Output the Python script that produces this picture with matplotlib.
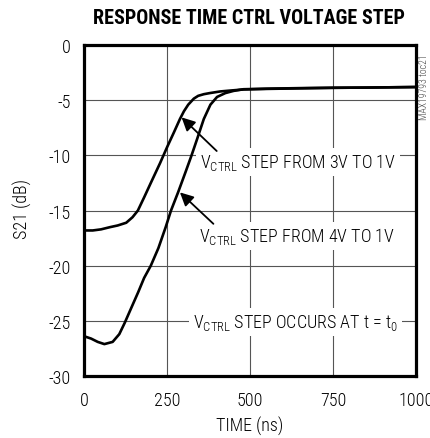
import matplotlib
matplotlib.use("Agg")
import matplotlib.pyplot as plt

FONT = ["Roboto Condensed", "Archivo Narrow", "Liberation Sans", "DejaVu Sans"]
plt.rcParams["font.family"] = FONT
plt.rcParams["font.weight"] = "light"
plt.rcParams["mathtext.fontset"] = "custom"
plt.rcParams["mathtext.rm"] = FONT[0] + ":light"
plt.rcParams["mathtext.it"] = FONT[0] + ":light"

# curve: VCTRL step 3V -> 1V
t_3v = [0, 25, 50, 77, 100, 126, 145, 161, 180, 200, 228, 250, 270, 288, 300,
        313, 330, 343, 360, 378, 410, 440, 480, 550, 650, 750, 850, 1000]
s21_3v = [-16.8, -16.8, -16.7, -16.5, -16.35, -16.1, -15.6, -15.0, -13.8, -12.5,
          -10.7, -9.2, -7.9, -6.7, -6.0, -5.4, -4.85, -4.6, -4.45, -4.35, -4.2,
          -4.12, -4.02, -3.97, -3.92, -3.87, -3.85, -3.8]

# curve: VCTRL step 4V -> 1V
t_4v = [0, 20, 40, 60, 85, 105, 121, 140, 162, 180, 200, 223, 245, 261, 283,
        305, 323, 340, 360, 380, 400, 425, 450, 480, 550, 650, 750, 850, 1000]
s21_4v = [-26.4, -26.6, -26.9, -27.1, -26.9, -26.2, -25.2, -23.9, -22.4, -21.1,
          -20.0, -18.4, -16.5, -15.0, -13.3, -11.5, -10.0, -8.5, -6.7, -5.4,
          -4.7, -4.35, -4.15, -4.0, -3.95, -3.9, -3.87, -3.85, -3.8]

xticks = [0, 250, 500, 750, 1000]
yticks = [0, -5, -10, -15, -20, -25, -30]

fig = plt.figure(figsize=(4.31, 4.39), dpi=100)
ax = fig.add_axes([0.196, 0.141, 0.769, 0.754])

ax.plot(t_3v, s21_3v, color="black", lw=1.9, zorder=3)
ax.plot(t_4v, s21_4v, color="black", lw=1.9, zorder=3)

ax.set_xlim(0, 1000)
ax.set_ylim(-30, 0)
ax.set_xticks(xticks)
ax.set_yticks(yticks)
ax.set_xticklabels([str(v) for v in xticks])
ax.set_yticklabels([str(v) for v in yticks])
ax.tick_params(length=0, labelsize=13)
ax.tick_params(axis="x", pad=11)
ax.tick_params(axis="y", pad=10)
ax.grid(True, color="#555555", lw=0.8)
ax.set_axisbelow(True)
for sp in ax.spines.values():
    sp.set_linewidth(2.3)

box = dict(facecolor="white", edgecolor="none", pad=3)
ax.text(643, -10.6, r"V$_{\mathrm{CTRL}}$ STEP FROM 3V TO 1V", fontsize=13,
        ha="center", va="center", bbox=box, zorder=2)
ax.text(640, -17.3, r"V$_{\mathrm{CTRL}}$ STEP FROM 4V TO 1V", fontsize=13,
        ha="center", va="center", bbox=box, zorder=2)
ax.text(637, -25.1, r"V$_{\mathrm{CTRL}}$ STEP OCCURS AT t = t$_0$", fontsize=13,
        ha="center", va="center", bbox=box, zorder=2)

arrow = dict(arrowstyle="-|>", color="black", lw=1.3, mutation_scale=20,
             shrinkA=0, shrinkB=0)
ax.annotate("", xy=(293, -6.55), xytext=(399, -9.6), arrowprops=arrow, zorder=4)
ax.annotate("", xy=(288, -13.35), xytext=(389, -16.2), arrowprops=arrow, zorder=4)

fig.text(0.578, 0.957, "RESPONSE TIME CTRL VOLTAGE STEP", fontsize=14.5,
         fontweight="black", ha="center", va="center")
fig.text(0.58, 1 - 426 / 439, "TIME (ns)", fontsize=13, ha="center", va="center")
fig.text(22 / 431, 1 - 209 / 439, "S21 (dB)", fontsize=13, ha="center",
         va="center", rotation=90)
fig.text(424 / 431, 1 - 87 / 439, "MAX19793 toc21", fontsize=7, color="#444444",
         ha="center", va="center", rotation=90)

fig.savefig("out.png", dpi=100)
